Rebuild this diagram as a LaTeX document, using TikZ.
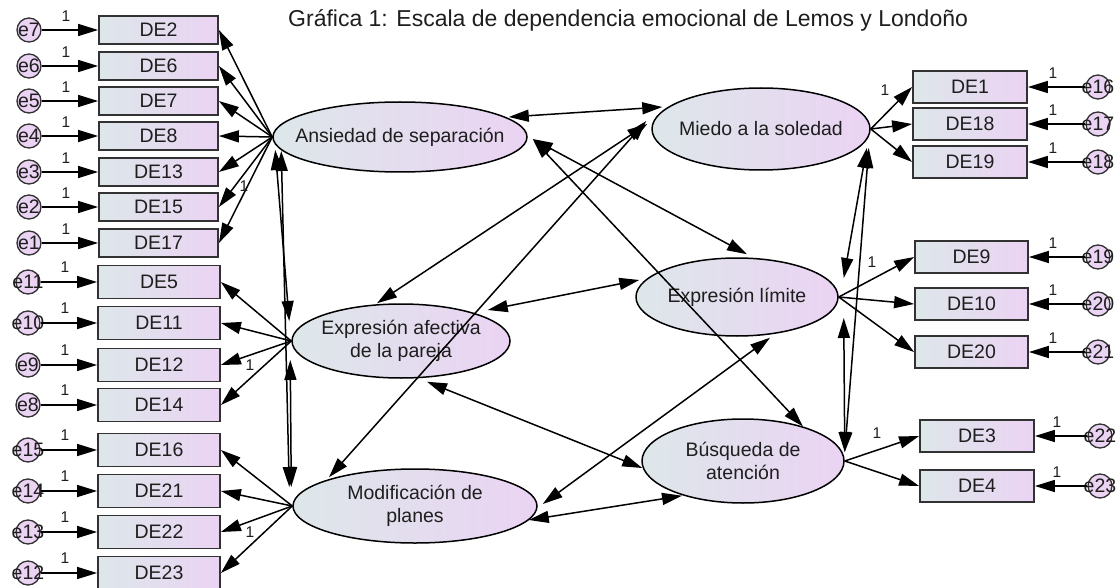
\documentclass[tikz,border=0pt]{standalone}
\usepackage{fontspec}
\setmainfont{Liberation Sans}
\usetikzlibrary{arrows.meta,shapes.geometric}
\definecolor{gleft}{RGB}{221,231,234}
\definecolor{gright}{RGB}{235,211,243}
\definecolor{boxline}{RGB}{50,50,50}
\definecolor{txt}{RGB}{30,30,30}
\tikzset{
  obs/.style={rectangle, draw=boxline, line width=1.8pt, left color=gleft, right color=gright,
    inner sep=0pt, font=\fontsize{19.5}{22}\selectfont, text=txt},
  lat/.style={ellipse, draw=black, line width=1.5pt, left color=gleft, right color=gright, inner sep=0pt},
  lattext/.style={font=\fontsize{19.5}{23}\selectfont, text=txt, align=center},
  err/.style={circle, draw=boxline, line width=1.3pt, fill=gright, minimum size=24pt, inner sep=0pt},
  errtext/.style={font=\fontsize{19.5}{22}\selectfont, text=txt},
  one/.style={font=\fontsize{15.5}{17}\selectfont, text=txt, inner sep=0pt},
  arr/.style={line width=1.5pt, -{Triangle[length=20pt,width=12pt]}},
  cov/.style={line width=1.5pt, {Triangle[length=20pt,width=12pt]}-{Triangle[length=20pt,width=12pt]}}
}
\begin{document}
\begin{tikzpicture}[x=1pt,y=-1pt]
\useasboundingbox (0,0) rectangle (1118,588);
\fill[white] (0,0) rectangle (1118,588);

\node[anchor=west, font=\fontsize{23}{26}\selectfont, text=txt, inner sep=0pt] (title) at (288,20)
  {Gráfica 1: Escala de dependencia emocional de Lemos y Londoño};

% latent variables
\node[lat, minimum width=254pt, minimum height=70pt, label={[lattext]center:Ansiedad de separación}] (A) at (400,137) {};
\node[lat, minimum width=218pt, minimum height=82pt, label={[lattext]center:Miedo a la soledad}] (MS) at (761,129) {};
\node[lat, minimum width=218pt, minimum height=74pt, label={[lattext]center:{Expresión afectiva\\de la pareja}}] (EA) at (401,341) {};
\node[lat, minimum width=202pt, minimum height=78pt, label={[lattext]center:Expresión límite}] (EL) at (737,297) {};
\node[lat, minimum width=202pt, minimum height=84pt, label={[lattext]center:{Búsqueda de\\atención}}] (BA) at (743,461) {};
\node[lat, minimum width=244pt, minimum height=74pt, label={[lattext]center:{Modificación de\\planes}}] (MP) at (415,506) {};

% left indicators
\foreach \n/\e/\y in {DE2/e7/30, DE6/e6/66, DE7/e5/101, DE8/e4/136, DE13/e3/172, DE15/e2/207, DE17/e1/243} {
  \node[obs, minimum width=119pt, minimum height=28pt] (\n) at (158.5,\y) {\n};
  \node[err, label={[errtext]center:\e}] (\e) at (29,\y) {};
  \draw[arr] (\e) -- (\n);
  \node[one] (one\e) at (66,\y-14) {1};
  \draw[arr] (A.west) -- (\n.east);
}
\foreach \n/\e/\y in {DE5/e11/282, DE11/e10/323, DE12/e9/365, DE14/e8/405} {
  \node[obs, minimum width=122pt, minimum height=33pt] (\n) at (159,\y) {\n};
  \node[err, label={[errtext]center:\e}] (\e) at (28,\y) {};
  \draw[arr] (\e) -- (\n);
  \node[one] (one\e) at (65,\y-15) {1};
  \draw[arr] (EA.west) -- (\n.east);
}
\foreach \n/\e/\y in {DE16/e15/450, DE21/e14/491, DE22/e13/532, DE23/e12/573} {
  \node[obs, minimum width=122pt, minimum height=33pt] (\n) at (159,\y) {\n};
  \node[err, label={[errtext]center:\e}] (\e) at (28,\y) {};
  \draw[arr] (\e) -- (\n);
  \node[one] (one\e) at (65,\y-15) {1};
  \draw[arr] (MP.west) -- (\n.east);
}
% right indicators
\foreach \n/\e/\y in {DE1/e16/87, DE18/e17/124, DE19/e18/162} {
  \node[obs, minimum width=114pt, minimum height=32pt] (\n) at (970,\y) {\n};
  \node[err, label={[errtext]center:\e}] (\e) at (1098,\y) {};
  \draw[arr] (\e) -- (\n);
  \node[one] (one\e) at (1053,\y-14) {1};
  \draw[arr] (MS.east) -- (\n.west);
}
\foreach \n/\e/\y in {DE9/e19/257, DE10/e20/304, DE20/e21/352} {
  \node[obs, minimum width=113pt, minimum height=32pt] (\n) at (971.5,\y) {\n};
  \node[err, label={[errtext]center:\e}] (\e) at (1098,\y) {};
  \draw[arr] (\e) -- (\n);
  \node[one] (one\e) at (1053,\y-14) {1};
  \draw[arr] (EL.east) -- (\n.west);
}
\foreach \n/\e/\y in {DE3/e22/436, DE4/e23/486} {
  \node[obs, minimum width=114pt, minimum height=32pt] (\n) at (977,\y) {\n};
  \node[err, label={[errtext]center:\e}] (\e) at (1100,\y) {};
  \draw[arr] (\e) -- (\n);
  \node[one] (one\e) at (1057,\y-14) {1};
  \draw[arr] (BA.east) -- (\n.west);
}

% loading "1" labels
\node[one] (lA) at (244,186) {1};
\node[one] (lEA) at (250,365) {1};
\node[one] (lMP) at (250,532) {1};
\node[one] (lMS) at (885,90) {1};
\node[one] (lEL) at (872,262) {1};
\node[one] (lBA) at (877,433) {1};

% covariances
\draw[cov] ([shift={(3,13)}]A.west) -- ([shift={(-2,-20)}]EA.west);
\draw[cov] ([shift={(9,14)}]A.west) -- ([shift={(-3,-19)}]MP.west);
\draw[cov] ([shift={(-1,19)}]EA.west) -- ([shift={(-1,-19)}]MP.west);
\draw[cov] ([shift={(-19,-20)}]A.east) -- ([shift={(11,-22)}]MS.west);
\draw[cov] ([shift={(5,2)}]A.east) -- ([shift={(10,-3)}]EL.north);
\draw[cov] ([shift={(5,2)}]A.east) -- (BA.30);
\draw[cov] ([shift={(-4,-5)}]MS.west) -- ([shift={(-24,0)}]EA.north);
\draw[cov] ([shift={(-5,-8)}]MS.west) -- ([shift={(-86,9)}]MP.north);
\draw[cov] ([shift={(-23,-31)}]EA.east) -- ([shift={(4,-17)}]EL.west);
\draw[cov] ([shift={(26,3)}]EA.south) -- ([shift={(1,7)}]BA.west);
\draw[cov] ([shift={(5,-2)}]MP.east) -- ([shift={(33,1)}]EL.south);
\draw[cov] ([shift={(-9,14)}]MP.east) -- ([shift={(-61,-8)}]BA.south);
\draw[cov] ([shift={(-4,19)}]MS.east) -- ([shift={(5,-19)}]EL.east);
\draw[cov] ([shift={(-2,19)}]MS.east) -- ([shift={(0,-9)}]BA.east);
\draw[cov] ([shift={(5,21)}]EL.east) -- ([shift={(0,-9)}]BA.east);
\end{tikzpicture}
\end{document}
